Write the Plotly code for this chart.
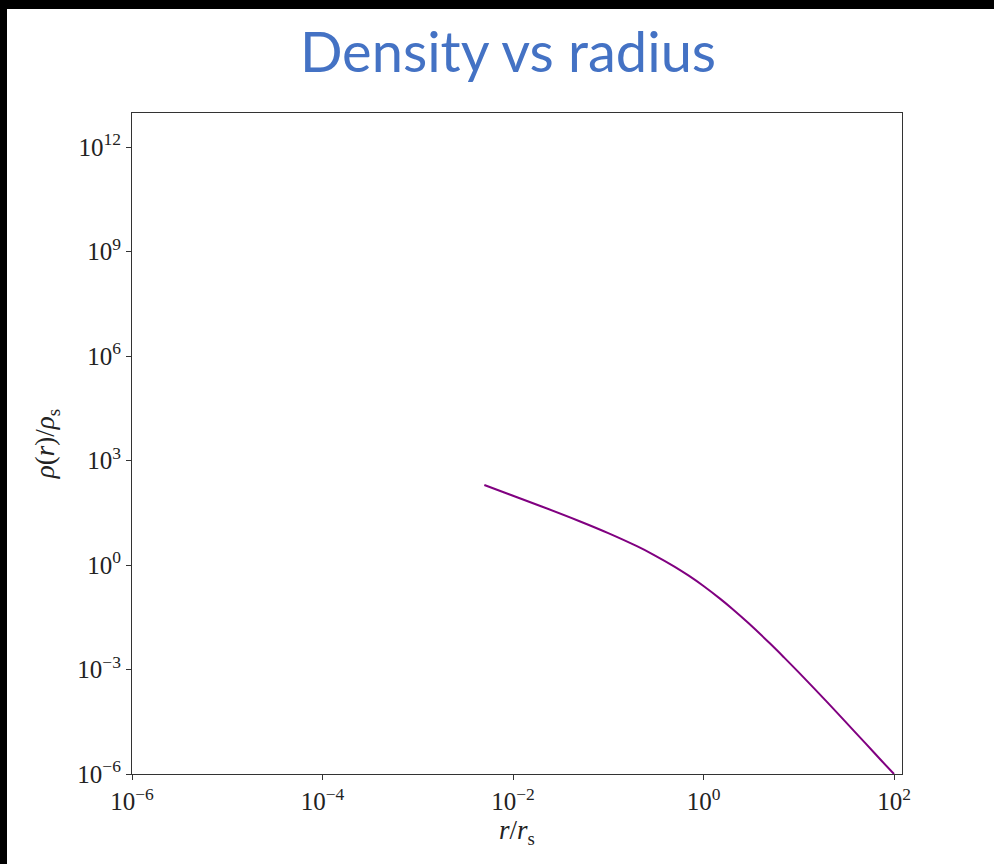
import plotly.graph_objects as go

# Data (r/r_s, rho/rho_s)
r_vals = [0.005, 0.01, 0.02, 0.05, 0.1, 0.2, 0.3, 0.5, 0.7, 1.0, 1.5, 2.0, 3.0,
          5.0, 7.0, 10.0, 20.0, 30.0, 50.0, 70.0, 100.0]
log_rho_vals = [2.297, 1.991, 1.682, 1.259, 0.917, 0.541, 0.295, -0.051, -0.306,
                -0.602, -0.972, -1.255, -1.681, -2.255, -2.651, -3.083, -3.945,
                -4.460, -5.114, -5.548, -6.0]
rho_vals = [10 ** v for v in log_rho_vals]

x_tick_vals = [1e-6, 1e-4, 1e-2, 1e0, 1e2]
x_tick_text = ["10<sup>\u22126</sup>", "10<sup>\u22124</sup>", "10<sup>\u22122</sup>",
               "10<sup>0</sup>", "10<sup>2</sup>"]
y_tick_vals = [1e-6, 1e-3, 1e0, 1e3, 1e6, 1e9, 1e12]
y_tick_text = ["10<sup>\u22126</sup>", "10<sup>\u22123</sup>", "10<sup>0</sup>",
               "10<sup>3</sup>", "10<sup>6</sup>", "10<sup>9</sup>", "10<sup>12</sup>"]

W, H = 994, 864
L, R, T, B = 132, 92, 113, 90
pw, ph = W - L - R, H - T - B

def px_x(p):
    return (p - L) / pw

def px_y(p):
    return (H - B - p) / ph

fig = go.Figure()
fig.add_trace(go.Scatter(x=r_vals, y=rho_vals, mode="lines",
                         line=dict(color="#800080", width=2, shape="spline"),
                         showlegend=False, hoverinfo="skip"))

tick_font = dict(family="Liberation Serif, DejaVu Serif, serif", size=25, color="#222")

fig.update_layout(
    width=W, height=H,
    margin=dict(l=L, r=R, t=T, b=B),
    paper_bgcolor="white", plot_bgcolor="white",
    title=dict(text="Density vs radius", x=508 / W, xanchor="center",
               y=1 - 33 / H, yanchor="top", yref="container",
               font=dict(family="Lato, Open Sans, sans-serif", size=56, color="#4472C4")),
    xaxis=dict(type="log", range=[-6, 2.084], tickvals=x_tick_vals, ticktext=x_tick_text,
               ticks="outside", ticklen=5, tickcolor="#333", tickwidth=1,
               showgrid=False, zeroline=False, showline=True, linecolor="#333",
               linewidth=1.2, mirror=True, tickfont=tick_font,
               title=dict(text="<i>r</i>/<i>r</i><sub>s</sub>",
                          font=dict(family="Liberation Serif, serif", size=27, color="#222"),
                          standoff=6)),
    yaxis=dict(type="log", range=[-6, 12.98], tickvals=y_tick_vals, ticktext=y_tick_text,
               ticks="outside", ticklen=5, tickcolor="#333", tickwidth=1,
               showgrid=False, zeroline=False, showline=True, linecolor="#333",
               linewidth=1.2, mirror=True, tickfont=tick_font,
               title=dict(text="<i>\u03c1</i>(<i>r</i>)/<i>\u03c1</i><sub>s</sub>",
                          font=dict(family="Liberation Serif, serif", size=27, color="#222"),
                          standoff=14)),
)

# black slide border (left and top strips)
fig.add_shape(type="rect", xref="paper", yref="paper",
              x0=px_x(-5), x1=px_x(7), y0=px_y(H + 5), y1=px_y(-5),
              fillcolor="black", line_width=0, layer="above")
fig.add_shape(type="rect", xref="paper", yref="paper",
              x0=px_x(-5), x1=px_x(W + 5), y0=px_y(9), y1=px_y(-5),
              fillcolor="black", line_width=0, layer="above")

fig.write_html("out.html")
